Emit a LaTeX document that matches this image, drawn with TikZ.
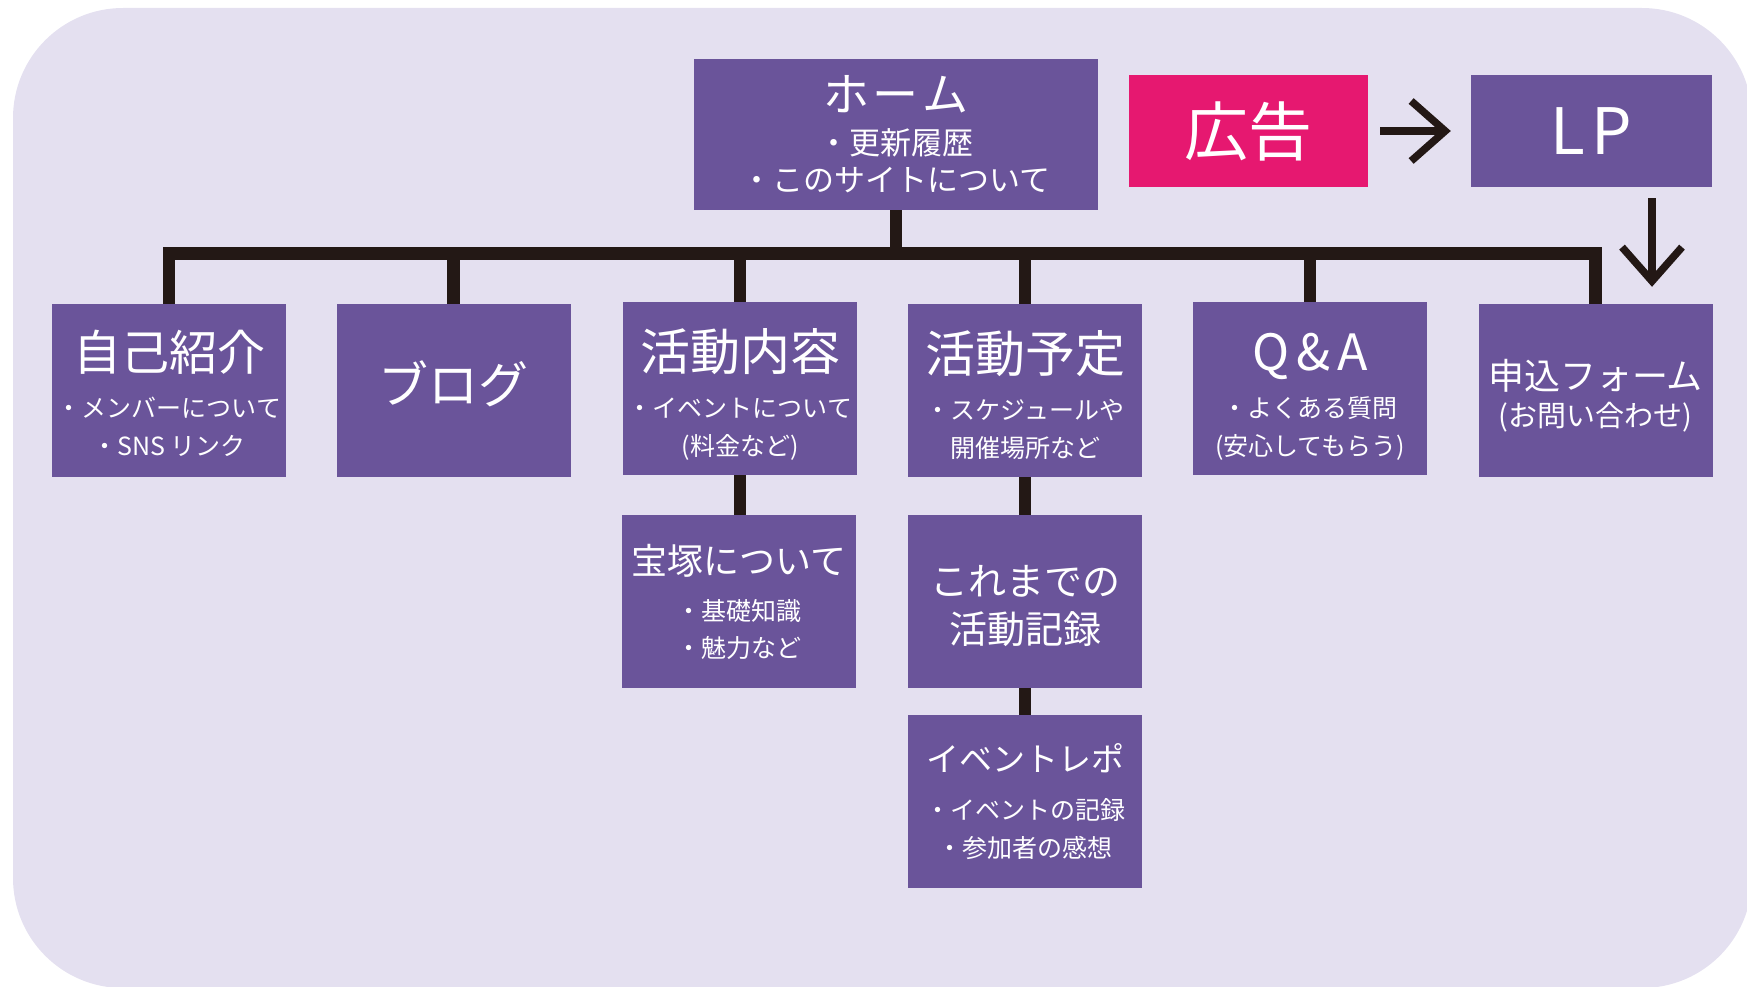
\documentclass[tikz,border=0pt]{standalone}
\usepackage{fontspec}
\setmainfont{Noto Sans CJK JP}
\usetikzlibrary{arrows.meta}
\definecolor{bgc}{HTML}{E4E0F0}
\definecolor{boxc}{HTML}{6A549A}
\definecolor{adc}{HTML}{E61870}
\definecolor{lnc}{HTML}{231815}
\newcommand\fsz[1]{\fontsize{#1pt}{#1pt}\selectfont}
\begin{document}
\begin{tikzpicture}[x=1pt,y=-1pt,
  pbox/.style={fill=boxc, text=white, minimum width=234pt, minimum height=173pt,
    inner sep=0pt, align=center, font=\fontsize{25pt}{38pt}\selectfont},
  conn/.style={draw=lnc, line width=12.7pt},
  arr/.style={draw=lnc, line width=7.5pt, -{Straight Barb[length=34pt,width=60pt]}},
]
\useasboundingbox (0,0) rectangle (1747,987);
\begin{scope}
  \clip (0,0) rectangle (1747,987);
  \fill[bgc, rounded corners=110pt] (13,8) rectangle (1752,988);
\end{scope}

\coordinate (bus) at (0,253.5);

% nodes
\node[pbox, minimum width=404pt, minimum height=151pt, font=\fontsize{31pt}{37pt}\selectfont]
  (home) at (896,134.5) {{\fsz{46}ホ\kern4ptー\kern4ptム}\\[6pt]・更新履歴\\・このサイトについて};
\node[fill=adc, text=white, minimum width=239pt, minimum height=112pt, inner sep=0pt, font=\fsz{64}]
  (ad) at (1248.5,131) {広告};
\node[pbox, minimum width=241pt, minimum height=112pt, font=\fsz{64}]
  (lp) at (1591.5,131) {L\kern6pt P};

\node[pbox] (b1) at (169,390.5) {{\fsz{48}\rule{0pt}{47pt}自己紹介}\\[9pt]・メンバーについて\\・SNS リンク};
\node[pbox] (b2) at (453.5,390.5) {{\fsz{50}ブログ\rule[-17pt]{0pt}{17pt}}};
\node[pbox] (b3) at (740,388.5) {{\fsz{50}\rule{0pt}{53pt}活動内容}\\[9pt]・イベントについて\\(料金など)};
\node[pbox] (b4) at (1025,390.5) {{\fsz{50}\rule{0pt}{51pt}活動予定}\\[9pt]・スケジュールや\\開催場所など};
\node[pbox] (b5) at (1310,388.5) {{\fsz{50}\rule{0pt}{53pt}Q\kern7pt\&\kern7pt A}\\[9pt]・よくある質問\\(安心してもらう)};
\node[pbox, font=\fontsize{29pt}{37pt}\selectfont] (b6) at (1595.5,390.5) {{\fsz{36}\rule{0pt}{40pt}申込フォーム}\\(お問い合わせ)};

\node[pbox, font=\fontsize{25pt}{37pt}\selectfont] (c3) at (739,601.5) {{\fsz{36}宝塚について}\\[9pt]・基礎知識\\・魅力など};
\node[pbox, font=\fontsize{38pt}{48pt}\selectfont] (c4) at (1025,601.5) {\rule{0pt}{39pt}これまでの\\活動記録};
\node[pbox] (d4) at (1025,801.5) {{\fsz{33}イベントレポ}\\[10pt]・イベントの記録\\・参加者の感想};

% tree connectors
\draw[conn] (b1.north) -- (b1.north |- bus) -- (b6.north |- bus) -- (b6.north);
\draw[conn] (home.south) -- (home.south |- bus);
\foreach \n in {b2,b3,b4,b5} \draw[conn] (\n.north) -- (\n.north |- bus);
\draw[conn] (b3.south) -- (b3.south |- c3.north);
\draw[conn] (b4.south) -- (c4.north);
\draw[conn] (c4.south) -- (d4.north);

% arrows
\draw[arr, shorten <=12pt, shorten >=20pt] (ad.east) -- (lp.west);
\draw[arr, shorten <=11pt, shorten >=17pt] ([xshift=60.5pt]lp.south) -- ([xshift=60.5pt]lp.south |- b6.north);
\end{tikzpicture}%
\end{document}
